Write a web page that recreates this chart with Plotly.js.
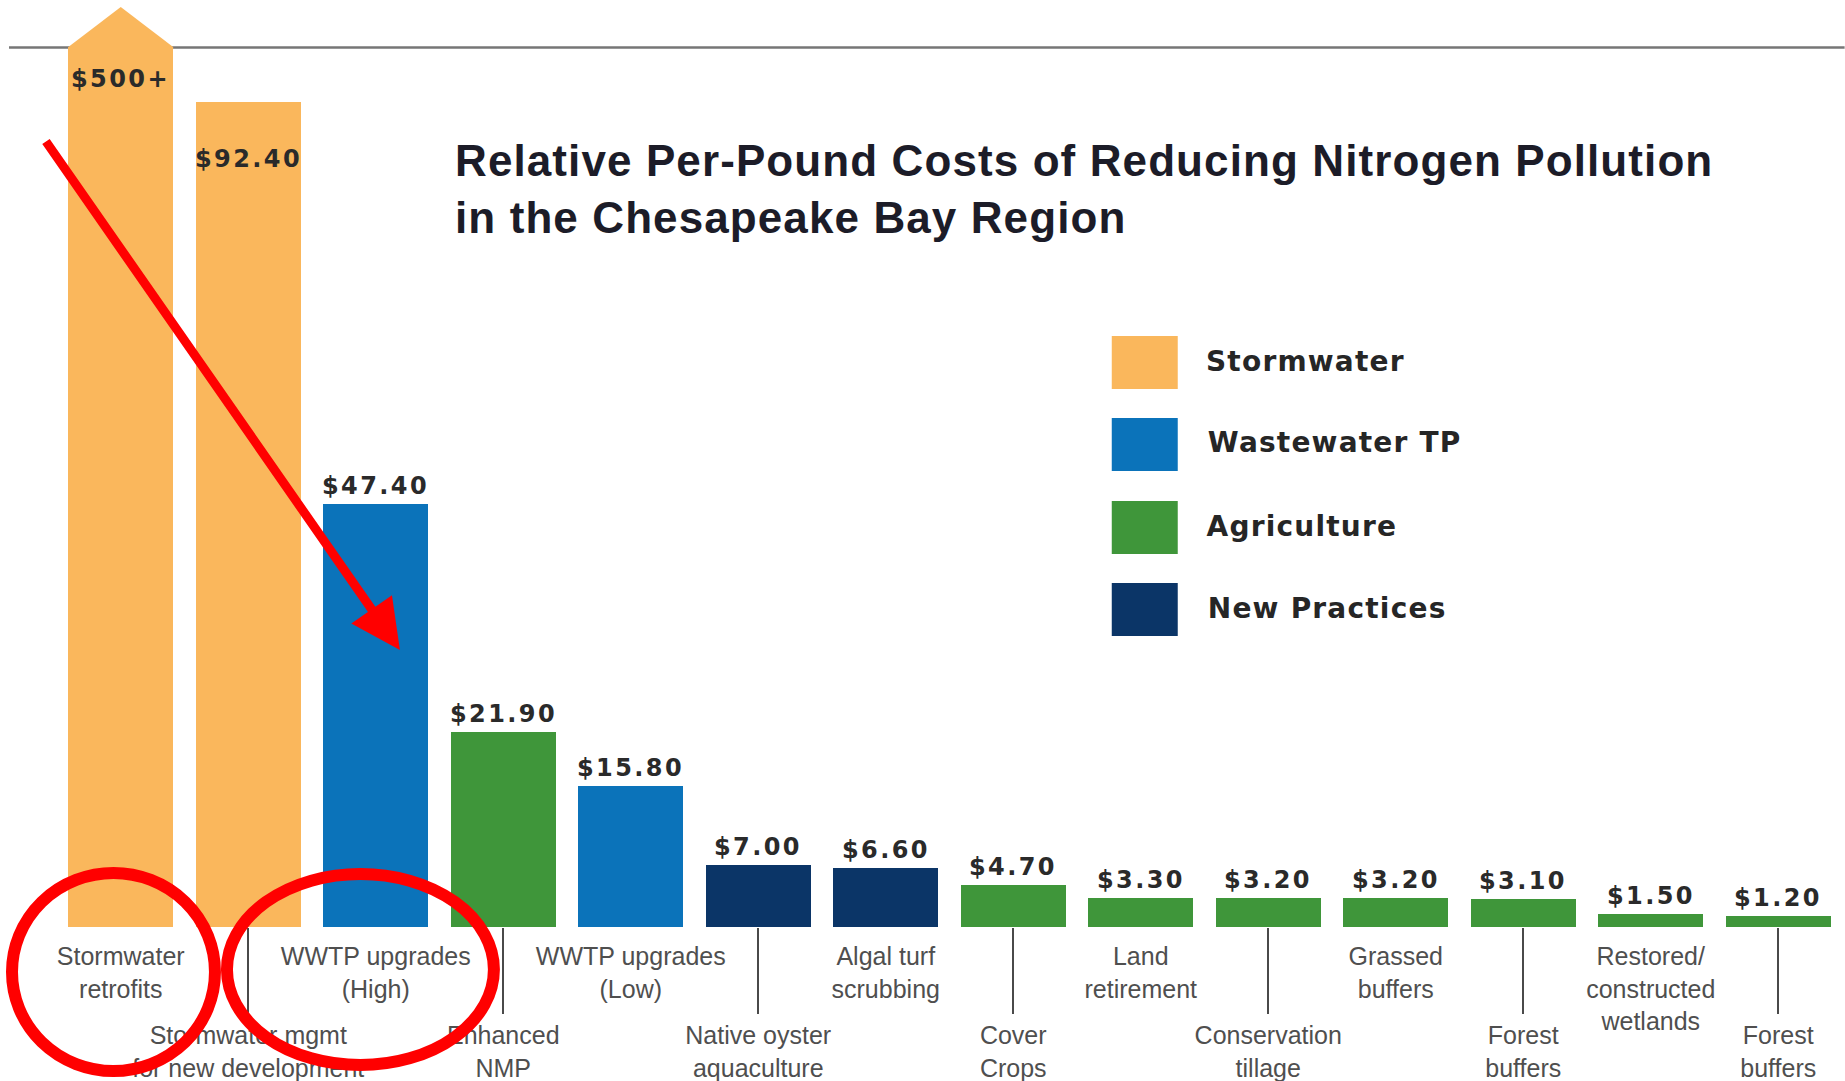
<!DOCTYPE html>
<html><head><meta charset="utf-8">
<script src="https://cdn.plot.ly/plotly-3.0.1.min.js"></script>
<style>
html,body{margin:0;padding:0;background:#fff;}
#chart{width:1845px;height:1081px;}
.annotation-text{letter-spacing:2.4px;}
.annotation[data-index="14"] .annotation-text,
.annotation[data-index="15"] .annotation-text,
.annotation[data-index="16"] .annotation-text,
.annotation[data-index="17"] .annotation-text{letter-spacing:1.2px;}
.gtitle{letter-spacing:1.1px;}
</style></head><body><div id="chart"></div>
<script>
// ---- data ----
const categories = [
  'Stormwater<br>retrofits',
  'Stormwater mgmt<br>for new development',
  'WWTP upgrades<br>(High)',
  'Enhanced<br>NMP',
  'WWTP upgrades<br>(Low)',
  'Native oyster<br>aquaculture',
  'Algal turf<br>scrubbing',
  'Cover<br>Crops',
  'Land<br>retirement',
  'Conservation<br>tillage',
  'Grassed<br>buffers',
  'Forest<br>buffers',
  'Restored/<br>constructed<br>wetlands',
  'Forest<br>buffers'
];
const values = [500, 92.4, 47.4, 21.9, 15.8, 7.0, 6.6, 4.7, 3.3, 3.2, 3.2, 3.1, 1.5, 1.2];
const valueLabels = ['$500+', '$92.40', '$47.40', '$21.90', '$15.80', '$7.00', '$6.60', '$4.70', '$3.30', '$3.20', '$3.20', '$3.10', '$1.50', '$1.20'];
const groups = ['Stormwater', 'Stormwater', 'Wastewater TP', 'Agriculture', 'Wastewater TP', 'New Practices', 'New Practices',
  'Agriculture', 'Agriculture', 'Agriculture', 'Agriculture', 'Agriculture', 'Agriculture', 'Agriculture'];
const groupNames = ['Stormwater', 'Wastewater TP', 'Agriculture', 'New Practices'];
const groupColors = ['#FAB75C', '#0B73BA', '#3F963A', '#0B3567'];
const titleText = 'Relative Per-Pound Costs of Reducing Nitrogen Pollution<br>in the Chesapeake Bay Region';

// ---- layout geometry ----
const W = 1845, H = 1081, ML = 57, MR = 2.6, MT = 47, MB = 154;
const PW = W - ML - MR, PH = H - MT - MB;
const YMAX = 98.6;
const px2x = px => (px - ML) / PW;
const py2y = py => (H - MB - py) / PH;

const idx = categories.map((_, i) => i);
const tier1 = idx.filter(i => i % 2 === 0);
const tier2 = idx.filter(i => i % 2 === 1);

const traces = groupNames.map((g, k) => {
  const ii = idx.filter(i => groups[i] === g);
  return {
    type: 'bar', name: g, x: ii, y: ii.map(i => values[i]),
    marker: {color: groupColors[k], line: {width: 0}},
    hovertemplate: '%{y}<extra>' + g + '</extra>', showlegend: false
  };
});
traces.push({
  type: 'scatter', mode: 'markers', x: tier2, y: tier2.map(() => 0), xaxis: 'x2', yaxis: 'y',
  marker: {opacity: 0}, hoverinfo: 'skip', showlegend: false
});

const labelFont = {family: 'DejaVu Sans, sans-serif', size: 24, weight: 700, color: '#2a2a2a'};
const annotations = values.map((v, i) => {
  if (v > YMAX) return {x: i, xref: 'x', y: 1, yref: 'paper', yanchor: 'middle', yshift: -32,
    text: valueLabels[i], showarrow: false, font: labelFont};
  if (v > 60) return {x: i, xref: 'x', y: v, yref: 'y', yanchor: 'middle', yshift: -57,
    text: valueLabels[i], showarrow: false, font: labelFont};
  return {x: i, xref: 'x', y: v, yref: 'y', yanchor: 'middle', yshift: 18,
    text: valueLabels[i], showarrow: false, font: labelFont};
});

// legend (drawn manually)
const legTop = [336, 418, 501, 583];
const shapes = [
  {type: 'line', xref: 'paper', yref: 'paper', x0: px2x(9), x1: px2x(W), y0: py2y(47.5), y1: py2y(47.5),
   line: {color: '#767676', width: 2.5}, layer: 'below'},
  {type: 'path', xref: 'x', xsizemode: 'pixel', xanchor: 0, yref: 'paper', ysizemode: 'pixel', yanchor: 1,
   path: 'M-52.4,-2 L-52.4,0 L0,40 L52.4,0 L52.4,-2 Z', fillcolor: groupColors[0], line: {width: 0}, layer: 'above'}
];
groupNames.forEach((g, k) => {
  shapes.push({type: 'rect', xref: 'paper', yref: 'paper', x0: px2x(1112), x1: px2x(1178),
    y0: py2y(legTop[k] + 53), y1: py2y(legTop[k]), fillcolor: groupColors[k], line: {width: 0}});
  annotations.push({xref: 'paper', yref: 'paper', x: px2x(1198), y: py2y(legTop[k] + 25), xanchor: 'left', yanchor: 'middle',
    text: g, showarrow: false, font: {family: 'DejaVu Sans, sans-serif', size: 28, weight: 700, color: '#262626'}});
});

// red markup
shapes.push({type: 'circle', xref: 'paper', yref: 'paper', x0: px2x(12), x1: px2x(215), y0: py2y(1071), y1: py2y(873),
  line: {color: '#FF0000', width: 12}, layer: 'above'});
shapes.push({type: 'circle', xref: 'paper', yref: 'paper', x0: px2x(227), x1: px2x(494), y0: py2y(1065), y1: py2y(874),
  line: {color: '#FF0000', width: 12}, layer: 'above'});
annotations.push({xref: 'paper', yref: 'paper', x: px2x(400), y: py2y(650), axref: 'pixel', ayref: 'pixel',
  ax: 45 - 400, ay: 140 - 650, text: '', showarrow: true, arrowhead: 2, arrowsize: 1.1, arrowwidth: 9,
  arrowcolor: '#FF0000', standoff: 0});

const tickFont = {family: 'Liberation Sans, Arial, sans-serif', size: 25, color: '#4f4f4f'};
const layout = {
  width: W, height: H,
  margin: {l: ML, r: MR, t: MT, b: MB, pad: 0},
  paper_bgcolor: '#ffffff', plot_bgcolor: 'rgba(0,0,0,0)',
  barmode: 'stack', bargap: 0.179,
  showlegend: false,
  title: {text: titleText, xref: 'container', yref: 'container', x: 455 / W, xanchor: 'left',
    y: 1 - 176 / H, yanchor: 'top',
    font: {family: 'Liberation Sans, Arial, sans-serif', size: 44, weight: 700, color: '#1c1c28'}},
  xaxis: {type: 'linear', range: [-0.5, 13.5], tickvals: tier1, ticktext: tier1.map(i => categories[i]),
    ticks: '', showgrid: false, zeroline: false, showline: false, tickfont: tickFont, ticklabelstandoff: 12, fixedrange: true},
  xaxis2: {type: 'linear', range: [-0.5, 13.5], overlaying: 'x', anchor: 'y', side: 'bottom',
    tickvals: tier2, ticktext: tier2.map(i => categories[i]), ticks: 'outside', ticklen: 86, tickwidth: 1.6,
    tickcolor: '#4a4a4a', showgrid: false, zeroline: false, showline: false, tickfont: tickFont, ticklabelstandoff: 0, fixedrange: true},
  yaxis: {range: [0, YMAX], visible: false, fixedrange: true},
  shapes: shapes,
  annotations: annotations
};
Plotly.newPlot('chart', traces, layout, {displayModeBar: false, staticPlot: true});
</script></body></html>
